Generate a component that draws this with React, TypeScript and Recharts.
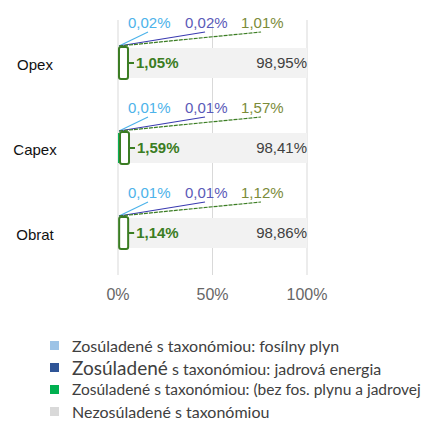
import { BarChart, Bar, XAxis, YAxis, CartesianGrid, LabelList } from 'recharts';

const categories = ['Opex', 'Capex', 'Obrat'];
const fossilGas = [0.02, 0.01, 0.01];
const nuclear = [0.02, 0.01, 0.01];
const otherAligned = [1.01, 1.57, 1.12];
const notAligned = [98.95, 98.41, 98.86];
const totalAligned = [1.05, 1.59, 1.14];
const xTicks = [0, 50, 100];

const legendItems = [
  { label: 'Zosúladené s taxonómiou: fosílny plyn', color: '#9DC3E6' },
  { label: 'Zosúladené s taxonómiou: jadrová energia', color: '#2F5597', big: true },
  { label: 'Zosúladené s taxonómiou: (bez fos. plynu a jadrovej', color: '#00B050' },
  { label: 'Nezosúladené s taxonómiou', color: '#D9D9D9' },
];

const data = categories.map((name, i) => ({
  name,
  fossil: fossilGas[i],
  nuclear: nuclear[i],
  other: otherAligned[i],
  rest: notAligned[i],
}));

const fmt = (v: number) => v.toFixed(2).replace('.', ',') + '%';
const FONT = '"Liberation Sans", Arial, sans-serif';

// label above the bar with a leader line back to the bar start
function topLabel(dx: number, color: string, lineColor: string, dash?: string) {
  return (props: any) => {
    const { x, y, value } = props;
    const x0 = Number(x);
    const y0 = Number(y);
    return (
      <g>
        <line x1={x0 + 1} y1={y0 - 2} x2={x0 + dx + 20} y2={y0 - 16} stroke={lineColor} strokeWidth={1.2} strokeDasharray={dash} />
        <text x={x0 + dx} y={y0 - 25} dy="0.35em" fill={color} fontSize={15} fontFamily={FONT}>
          {fmt(value)}
        </text>
      </g>
    );
  };
}

// drawn in the last bar's label layer so the grey bar doesn't cover it
function restLabel(props: any) {
  const { x, y, width, height, value, index } = props;
  const x0 = Number(x);
  const y0 = Number(y);
  const h = Number(height);
  const bx = x0 - 1;
  return (
    <g>
      <rect x={x0 - 2} y={y0} width={9} height={h} fill="#fff" />
      <rect x={bx} y={y0 - 1} width={9} height={h + 2} rx={2} fill="none" stroke="#3B7D23" strokeWidth={2} />
      <line x1={bx + 9} y1={y0 + h / 2} x2={bx + 15} y2={y0 + h / 2} stroke="#3B7D23" strokeWidth={2} />
      <text x={bx + 17} y={y0 + h / 2} dy="0.35em" fill="#3B7D23" fontSize={15} fontWeight={700} fontFamily={FONT}>
        {fmt(totalAligned[index])}
      </text>
      <text x={x0 + Number(width)} y={y0 + h / 2} dy="0.35em" textAnchor="end" fill="#404040" fontSize={15} fontFamily={FONT}>
        {fmt(value)}
      </text>
    </g>
  );
}

function CategoryTick(props: any) {
  const { y, payload } = props;
  return (
    <text x={35} y={y + 2} dy="0.35em" textAnchor="middle" fill="#111" fontSize={15} fontWeight={400} fontFamily={FONT}>
      {payload.value}
    </text>
  );
}

export default function App() {
  return (
    <div style={{ position: 'absolute', left: 0, top: 0, width: 443, height: 428, background: '#fff' }}>
      <BarChart
        width={443}
        height={310}
        data={data}
        layout="vertical"
        margin={{ top: 20, right: 136, bottom: 5, left: 0 }}
        barSize={30}
      >
        <CartesianGrid horizontal={false} stroke="#D9D9D9" />
        <XAxis
          type="number"
          domain={[0, 100]}
          ticks={xTicks}
          tickFormatter={(v) => `${v}%`}
          axisLine={false}
          tickLine={false}
          tickMargin={8}
          height={30}
          tick={{ fontSize: 16, fill: '#666', fontFamily: FONT }}
        />
        <YAxis type="category" dataKey="name" width={118} axisLine={false} tickLine={false} tick={<CategoryTick />} />
        <Bar dataKey="fossil" stackId="a" fill="#9DC3E6" isAnimationActive={false}>
          <LabelList dataKey="fossil" content={topLabel(10, '#4DB3EA', '#4DB3EA')} />
        </Bar>
        <Bar dataKey="nuclear" stackId="a" fill="#2F5597" isAnimationActive={false}>
          <LabelList dataKey="nuclear" content={topLabel(67, '#5A5AB8', '#3A3AB0')} />
        </Bar>
        <Bar dataKey="other" stackId="a" fill="#00B050" isAnimationActive={false}>
          <LabelList dataKey="other" content={topLabel(123, '#7B8B3A', '#3B7D23', '4 1')} />
        </Bar>
        <Bar dataKey="rest" stackId="a" fill="#F2F2F2" isAnimationActive={false}>
          <LabelList dataKey="rest" content={restLabel} />
        </Bar>
      </BarChart>
      <div style={{ position: 'absolute', left: 50, top: 334, width: 393, overflow: 'hidden', fontFamily: 'Lato, sans-serif', color: '#404040' }}>
        {legendItems.map((it) => (
          <div key={it.label} style={{ display: 'flex', alignItems: 'center', height: 22, whiteSpace: 'nowrap' }}>
            <span style={{ width: 9, height: 9, background: it.color, flexShrink: 0, marginRight: 13 }} />
            <span style={{ fontSize: it.label.length > 45 ? 15.5 : 16 }}>
              {it.big ? (
                <>
                  <span style={{ fontSize: 19 }}>{it.label.split(' ')[0]}</span>
                  {' ' + it.label.split(' ').slice(1).join(' ')}
                </>
              ) : (
                it.label
              )}
            </span>
          </div>
        ))}
      </div>
    </div>
  );
}
